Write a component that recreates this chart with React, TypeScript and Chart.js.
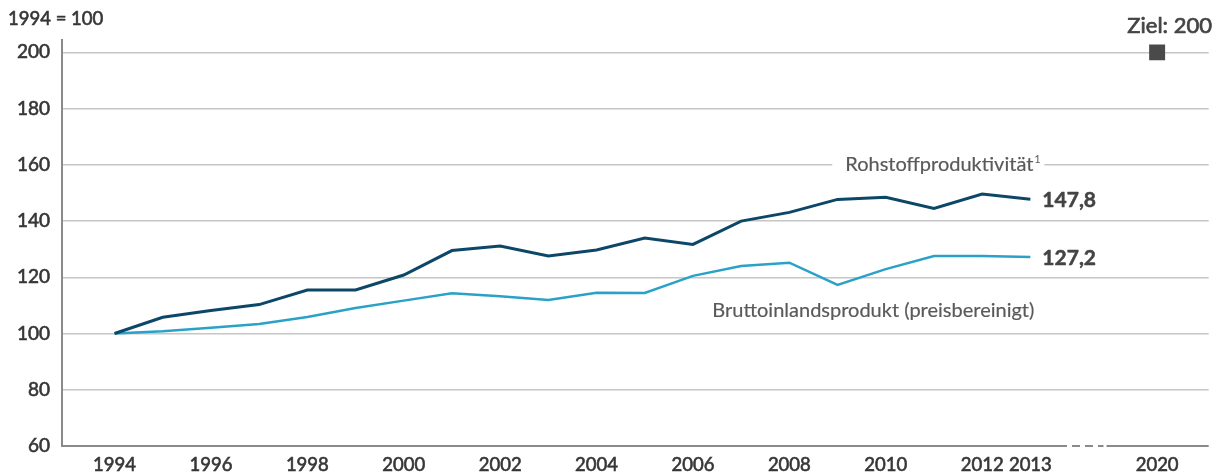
import React, { useEffect, useRef } from 'react';
import { Chart, registerables } from 'chart.js';

Chart.register(...registerables);

// ---- data ----
const years = [1994, 1995, 1996, 1997, 1998, 1999, 2000, 2001, 2002, 2003, 2004, 2005, 2006, 2007, 2008, 2009, 2010, 2011, 2012, 2013];
const rohstoffproduktivitaet = [100, 105.8, 108.2, 110.3, 115.5, 115.5, 120.8, 129.5, 131.1, 127.6, 129.7, 134.0, 131.7, 140.0, 143.1, 147.7, 148.5, 144.5, 149.6, 147.8];
const bip = [100, 100.8, 102.1, 103.4, 105.9, 109.1, 111.7, 114.3, 113.3, 111.9, 114.5, 114.4, 120.5, 124.0, 125.2, 117.3, 122.9, 127.6, 127.6, 127.2];
const targetYear = 2020;
const targetValue = 200;
const xTickYears = [1994, 1996, 1998, 2000, 2002, 2004, 2006, 2008, 2010, 2012, 2013];
const yTicks = [60, 80, 100, 120, 140, 160, 180, 200];

// ---- layout / style ----
const TARGET_POS = 2015.63; // displayed position of 2020 on the broken axis
const FONT = "Lato, 'Open Sans', sans-serif";
const DARK = '#0c4768';
const LIGHT = '#2aa2c8';
const TEXT = '#363636';
const AXIS = '#8a8a8a';
const GRID = '#c6c6c6';

const fmt = (v: number) => v.toFixed(1).replace('.', ',');

export default function App() {
  const ref = useRef<HTMLCanvasElement | null>(null);

  useEffect(() => {
    const canvas = ref.current;
    if (!canvas) return;

    const heavyText = (ctx: any, s: string, x: number, y: number, w: number) => {
      ctx.fillText(s, x, y);
      if (w > 0) {
        ctx.lineWidth = w;
        ctx.strokeStyle = ctx.fillStyle;
        ctx.strokeText(s, x, y);
      }
    };

    const annot = {
      id: 'annot',
      afterDraw(chart: any) {
        const { ctx, chartArea } = chart;
        const xs = chart.scales.x;
        const ys = chart.scales.y;
        ctx.save();

        // broken x-axis line
        ctx.strokeStyle = AXIS;
        ctx.lineWidth = 2;
        const yb = chartArea.bottom;
        const brkA = xs.getPixelForValue(2013.76);
        const brkB = xs.getPixelForValue(2014.58);
        ctx.beginPath();
        ctx.moveTo(chartArea.left - 1, yb);
        ctx.lineTo(brkA, yb);
        ctx.moveTo(brkB, yb);
        ctx.lineTo(chartArea.right, yb);
        ctx.stroke();
        ctx.setLineDash([8, 5]);
        ctx.beginPath();
        ctx.moveTo(brkA + 5, yb);
        ctx.lineTo(brkB - 3, yb);
        ctx.stroke();
        ctx.setLineDash([]);

        ctx.textBaseline = 'middle';
        ctx.lineJoin = 'round';

        // unit label
        ctx.fillStyle = TEXT;
        ctx.font = `normal 400 18.5px ${FONT}`;
        ctx.textAlign = 'left';
        heavyText(ctx, '1994 = 100', 8, 19, 0.6);

        // target label
        ctx.font = `normal 400 22px ${FONT}`;
        ctx.textAlign = 'right';
        ctx.fillStyle = '#444';
        heavyText(ctx, `Ziel: ${targetValue}`, 1212, 26, 0.7);

        const xEnd = xs.getPixelForValue(years[years.length - 1]);

        // series name: Rohstoffproduktivität¹ (on the 160 grid line)
        ctx.font = `normal 400 20px ${FONT}`;
        const name1 = 'Rohstoffproduktivität';
        const w1 = ctx.measureText(name1).width;
        const supW = 5;
        const right1 = xEnd + 8;
        const y1 = ys.getPixelForValue(160);
        ctx.fillStyle = '#fff';
        ctx.fillRect(right1 - supW - w1 - 13, y1 - 3, w1 + supW + 19, 6);
        ctx.fillStyle = '#5a5a5a';
        ctx.textAlign = 'right';
        heavyText(ctx, name1, right1 - supW, y1, 0.2);
        ctx.font = `normal 400 11px ${FONT}`;
        ctx.textAlign = 'left';
        ctx.fillText('1', right1 - supW + 1, y1 - 5);

        // series name: BIP
        ctx.font = `normal 400 20px ${FONT}`;
        ctx.textAlign = 'right';
        ctx.fillStyle = '#5a5a5a';
        heavyText(ctx, 'Bruttoinlandsprodukt (preisbereinigt)', xEnd + 4, ys.getPixelForValue(108), 0.2);

        // end values
        ctx.font = `normal 700 21px ${FONT}`;
        ctx.textAlign = 'left';
        ctx.fillStyle = '#444';
        const r = rohstoffproduktivitaet[rohstoffproduktivitaet.length - 1];
        const b = bip[bip.length - 1];
        heavyText(ctx, fmt(r), xEnd + 12, ys.getPixelForValue(r) + 1, 0.5);
        heavyText(ctx, fmt(b), xEnd + 12, ys.getPixelForValue(b) + 1, 0.5);

        ctx.restore();
      },
    };

    const chart = new Chart(canvas, {
      type: 'line',
      data: {
        datasets: [
          {
            label: 'Rohstoffproduktivität',
            data: years.map((y, i) => ({ x: y, y: rohstoffproduktivitaet[i] })),
            borderColor: DARK,
            borderWidth: 3,
            pointRadius: 0,
            tension: 0,
          },
          {
            label: 'Bruttoinlandsprodukt (preisbereinigt)',
            data: years.map((y, i) => ({ x: y, y: bip[i] })),
            borderColor: LIGHT,
            borderWidth: 2.5,
            pointRadius: 0,
            tension: 0,
          },
          {
            label: 'Ziel',
            data: [{ x: TARGET_POS, y: targetValue }],
            showLine: false,
            pointStyle: 'rect',
            pointRadius: 11.3,
            pointBorderWidth: 0,
            backgroundColor: '#4a4a4a',
            borderColor: '#4a4a4a',
          },
        ],
      },
      options: {
        responsive: false,
        maintainAspectRatio: false,
        devicePixelRatio: 1,
        animation: false,
        layout: { padding: { top: 40, right: 2, left: 0, bottom: 0 } },
        plugins: { legend: { display: false }, tooltip: { enabled: false } },
        scales: {
          x: {
            type: 'linear',
            min: 1992.91,
            max: 2016.7,
            grid: { display: false, drawTicks: false },
            border: { display: false },
            afterBuildTicks: (scale: any) => {
              scale.ticks = [...xTickYears, TARGET_POS].map((v) => ({ value: v }));
            },
            afterFit: (scale: any) => {
              scale.height = 30;
            },
            ticks: {
              autoSkip: false,
              maxRotation: 0,
              padding: 8,
              color: TEXT,
              textStrokeColor: TEXT,
              textStrokeWidth: 0.6,
              font: { family: FONT, size: 18.5 },
              callback: (v: any) => (v === TARGET_POS ? String(targetYear) : String(v)),
            },
          },
          y: {
            type: 'linear',
            min: 60,
            max: 204.4,
            grid: {
              drawTicks: false,
              color: (c: any) => (c.tick && c.tick.value === 60 ? 'rgba(0,0,0,0)' : GRID),
              lineWidth: 1.5,
            },
            border: { color: AXIS, width: 2 },
            afterBuildTicks: (scale: any) => {
              scale.ticks = yTicks.map((v) => ({ value: v }));
            },
            afterFit: (scale: any) => {
              scale.width = 62;
            },
            ticks: {
              padding: 12,
              color: TEXT,
              textStrokeColor: TEXT,
              textStrokeWidth: 0.6,
              font: { family: FONT, size: 19 },
            },
          },
        },
      },
      plugins: [annot],
    } as any);

    return () => chart.destroy();
  }, []);

  return (
    <div style={{ position: 'absolute', left: 0, top: 0, width: 1220, height: 476, background: '#fff' }}>
      <canvas ref={ref} width={1220} height={476} style={{ width: 1220, height: 476, display: 'block' }} />
    </div>
  );
}
